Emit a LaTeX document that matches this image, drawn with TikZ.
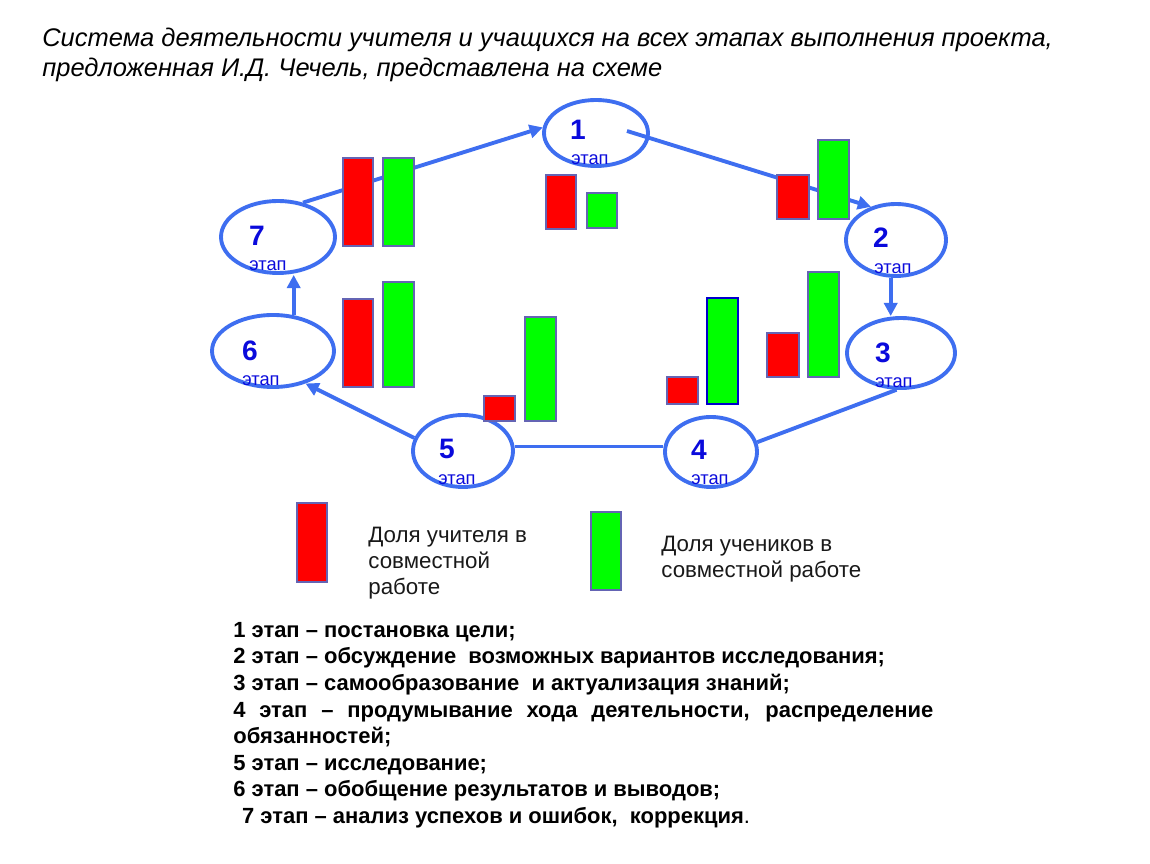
\documentclass[tikz,border=0pt]{standalone}
\usepackage{fontspec}
\setmainfont{Liberation Sans}
\usetikzlibrary{shapes.geometric, calc, arrows.meta}
\definecolor{stageblue}{RGB}{62,110,240}
\definecolor{labelblue}{RGB}{10,10,220}
\definecolor{barline}{RGB}{100,100,180}
\definecolor{teacherred}{RGB}{255,0,0}
\definecolor{pupilgreen}{RGB}{0,255,0}

\begin{document}
\begin{tikzpicture}[
            x=0.02cm, y=-0.02cm,
            stage/.style 2 args={ellipse, draw=stageblue, line width=2.2pt,
                minimum width=#1*0.02cm, minimum height=#2*0.02cm, inner sep=0pt},
            num/.style={text=labelblue, font=\fontsize{16}{18}\selectfont\bfseries, inner sep=0pt},
            etap/.style={text=labelblue, font=\fontsize{10.4}{12}\selectfont, inner sep=0pt},
            flow/.style={draw=stageblue, line width=2.2pt},
            arrowed/.style={-{Triangle[length=7.5pt, width=7.5pt]}},
            tbar/.style={fill=teacherred, draw=barline, line width=0.6pt},
            sbar/.style={fill=pupilgreen, draw=barline, line width=0.6pt},
            legendtext/.style={anchor=north west, inner sep=0pt, align=left, text=black!90,
                font=\fontsize{12.7}{14.7}\selectfont}
        ]
            \fill[white] (0,0) rectangle (1150,864);
            \useasboundingbox (0,0) rectangle (1150,864);

            % title
            \node[anchor=north west, inner sep=0pt, align=left,
                font=\fontsize{14.5}{17}\selectfont\itshape] (title) at (42,28)
                {Система деятельности учителя и учащихся на всех этапах выполнения проекта,\\
                 предложенная И.Д. Чечель, представлена на схеме};

            % stages
            \node[stage={104}{66}] (e1) at (596,133) {};
            \node[stage={100}{72}] (e2) at (896,240) {};
            \node[stage={108}{70}] (e3) at (901,353) {};
            \node[stage={92}{70}]  (e4) at (711,452) {};
            \node[stage={100}{72}] (e5) at (463,451) {};
            \node[stage={122}{72}] (e6) at (273,351) {};
            \node[stage={114}{72}] (e7) at (278,237) {};

            % connectors
            \coordinate (s12) at (627,131);
            \draw[flow, arrowed] (e7.54) -- (e1.174);
            \draw[flow, arrowed] (s12) -- (e2.127);
            \draw[flow, arrowed] (e2.262) -- (e2.262 |- e3.north);
            \draw[flow] (e3.263) -- (e4.12);
            \draw[flow] (e5.5) -- (e5.5 -| e4.west);
            \draw[flow, arrowed] (e5.165) -- (e6.-45);
            \draw[flow, arrowed] (e6.60) -- (e6.60 |- e7.south);

            % stage labels
            \node[num] (n1) at ($(e1)+(-18,-3)$) {1};
            \node[etap] (t1) at ($(e1)+(-6,27)$) {этап};
            \node[num] (n2) at ($(e2)+(-15,-2)$) {2};
            \node[etap] (t2) at ($(e2)+(-3,29)$) {этап};
            \node[num] (n3) at ($(e3)+(-18,0)$) {3};
            \node[etap] (t3) at ($(e3)+(-7,30)$) {этап};
            \node[num] (n4) at ($(e4)+(-12,-2)$) {4};
            \node[etap] (t4) at ($(e4)+(-1,28)$) {этап};
            \node[num] (n5) at ($(e5)+(-16,-2)$) {5};
            \node[etap] (t5) at ($(e5)+(-6,29)$) {этап};
            \node[num] (n6) at ($(e6)+(-23,0)$) {6};
            \node[etap] (t6) at ($(e6)+(-12,30)$) {этап};
            \node[num] (n7) at ($(e7)+(-21,-1)$) {7};
            \node[etap] (t7) at ($(e7)+(-10,29)$) {этап};

            % shares of teacher (red) and pupils (green)
            \draw[tbar] (343,158) rectangle (373,246);
            \draw[sbar] (383,158) rectangle (414,246);
            \draw[tbar] (546,175) rectangle (576,229);
            \draw[sbar] (587,193) rectangle (617,228);
            \draw[tbar] (777,175) rectangle (809,219);
            \draw[sbar] (818,140) rectangle (849,219);
            \draw[tbar] (767,333) rectangle (799,377);
            \draw[sbar] (808,272) rectangle (839,377);
            \draw[tbar] (667,377) rectangle (698,404);
            \draw[sbar, draw=blue!80!black] (707,298) rectangle (738,404);
            \draw[tbar] (484,396) rectangle (515,421);
            \draw[sbar] (525,317) rectangle (556,421);
            \draw[tbar] (343,299) rectangle (373,387);
            \draw[sbar] (383,282) rectangle (414,387);

            % legend
            \draw[tbar] (297,503) rectangle (327,582);
            \draw[sbar] (591,512) rectangle (621,590);
            \node[legendtext] (lt) at (368,527) {Доля учителя в\\ совместной\\ работе};
            \node[legendtext] (ls) at (661,536) {Доля учеников в\\ совместной работе};

            % list of stages
            \node[anchor=north west, inner sep=0pt, align=left,
                font=\fontsize{12.5}{15.1}\selectfont\bfseries] (steps) at (233,622)
                {1 этап – постановка цели;\\
                 2 этап – обсуждение \ возможных вариантов исследования;\\
                 3 этап – самообразование \ и актуализация знаний;\\
                 \makebox[14cm][s]{4 этап – продумывание хода деятельности, распределение}\\
                 обязанностей;\\
                 5 этап – исследование;\\
                 6 этап – обобщение результатов и выводов;\\
                 \hspace*{5pt}7 этап – анализ успехов и ошибок, \ коррекция{\mdseries .}};
        \end{tikzpicture}
\end{document}
